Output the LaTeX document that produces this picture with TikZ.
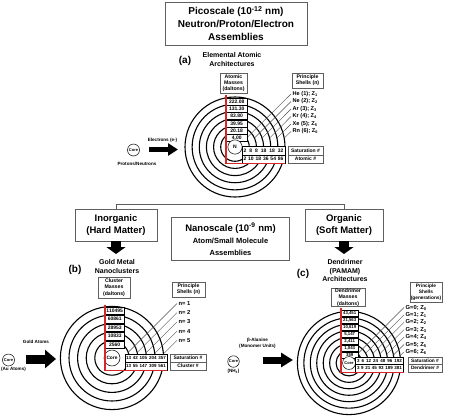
\documentclass[tikz,border=0pt]{standalone}
\usepackage{fontspec}
\setmainfont{Liberation Sans}
\usetikzlibrary{arrows.meta}
\definecolor{shellred}{RGB}{214,38,38}
\definecolor{boxgray}{RGB}{95,95,95}
\newcommand\sz[2]{\fontsize{#1}{#2}\selectfont\bfseries}
\newcommand\spreadrow[2]{\hbox to #1{#2}}
\tikzset{
  ring/.style={line width=1.1pt},
  corebox/.style={circle, draw, line width=0.5pt, fill=white, inner sep=0pt, font=\sz{4}{5}},
  titlebox/.style={draw=boxgray, line width=0.8pt, align=center, inner sep=0pt},
  infobox/.style={draw=boxgray, line width=0.4pt, fill=white, align=center, inner sep=0pt, font=\sz{5.2}{6.2}},
  massbox/.style={draw, line width=0.4pt, fill=white, inner sep=0pt, anchor=west, font=\sz{5}{5.5}},
  cell/.style={draw, line width=0.4pt, fill=white, inner sep=0pt, font=\sz{5}{5.5}},
  shelllab/.style={anchor=west, inner sep=1.5pt, font=\sz{5.6}{6}},
  leader/.style={line width=0.4pt, black!70},
  redL/.style={draw=shellred, line width=1.4pt},
  smalltxt/.style={inner sep=0pt, align=center, font=\sz{4.6}{6}},
  subtitle/.style={inner sep=0pt, align=center, font=\sz{7}{9}},
  panel/.style={inner sep=0pt, font=\sz{10}{12}},
}
\begin{document}
\begin{tikzpicture}[x=1pt,y=-1pt]
\useasboundingbox (0,0) rectangle (449,418);
\node[titlebox, minimum width=142, minimum height=43, font=\sz{10}{13}] (pico) at (236,23.5) {Picoscale (10\textsuperscript{-12} nm)\\Neutron/Proton/Electron\\Assemblies};

\node[panel] (a-tag) at (185,61) {(a)};
\node[subtitle] (a-title) at (232,59.5) {Elemental Atomic\\Architectures};
\coordinate (ca) at (235,147);
\foreach \r in {14.29,21.43,28.57,35.71,42.86,50}
  \draw[ring] (ca) circle[radius=\r];
\foreach \t/\ex [count=\k] in {{He (1); Z\textsubscript{1}}/246.5, {Ne (2); Z\textsubscript{2}}/254.5, {Ar (3); Z\textsubscript{3}}/262.1, {Kr (4); Z\textsubscript{4}}/269.6, {Xe (5); Z\textsubscript{5}}/276.9, {Rn (6); Z\textsubscript{6}}/284.3}{
  \node[shelllab] (a-l\k) at (291,{94+7.5*(\k-1)}) {\t};
  \coordinate (a-e\k) at (\ex,138);
  \draw[leader] (a-l\k.west) -- (a-e\k);
}
\foreach \m [count=\i] in {222.08,131.30,83.80,39.95,20.18,4.00}
  \node[massbox, minimum width=21, minimum height=7] (a-m\i) at (226,{101.5+7.3*(\i-1)}) {\m};
\node[corebox, minimum size=14.3, font=\sz{5}{6}] (a-core) at (ca) {N};
\node[cell, minimum width=43, minimum height=9] (a-sat) at (263.5,150.5) {\spreadrow{40pt}{2\hfill 8\hfill 8\hfill 18\hfill 18\hfill 32}};
\node[cell, minimum width=43, minimum height=8] (a-num) at (263.5,159) {\spreadrow{40pt}{2\hfill 10\hfill 18\hfill 36\hfill 54\hfill 86}};
\node[cell, draw=boxgray, minimum width=35, minimum height=9] (a-satlab) at (305.5,150.5) {Saturation \#};
\node[cell, draw=boxgray, minimum width=35, minimum height=8] (a-numlab) at (305.5,159) {Atomic \#};
\draw[redL] ([yshift=2.5pt]a-m1.north west) -- (a-m1.west |- a-num.south) -- (a-num.south east);
\node[infobox, minimum width=27, minimum height=20] (a-masslab) at (233.5,83) {Atomic\\Masses\\(daltons)};
\node[infobox, minimum width=31, minimum height=15] (a-shelllab) at (307.5,80.5) {Principle\\Shells (n)};
\node[corebox, minimum size=12] (a-pcore) at (133.5,150) {Core};
\node[smalltxt] (a-pn) at (137,163.5) {Protons/Neutrons};
\node[smalltxt] (a-el) at (162.5,140) {Electrons (e-)};
\coordinate (a-arr-s) at (149,149.5);
\coordinate (a-arr-e) at (178,149.5);
\draw[line width=5pt, -{Triangle[length=10pt,width=12pt]}] (a-arr-s) -- (a-arr-e);

\node[titlebox, minimum width=82, minimum height=32, font=\sz{9.5}{12}] (inorg) at (116,225) {Inorganic\\(Hard Matter)};
\node[titlebox, minimum width=78, minimum height=32, font=\sz{9.5}{12}] (org) at (344,225) {Organic\\(Soft Matter)};
\node[titlebox, minimum width=118, minimum height=43] (nano) at (230.5,239) {\sz{9.5}{12}Nanoscale (10\textsuperscript{-9} nm)\\\sz{7.5}{10}Atom/Small Molecule\\\sz{7.5}{10}Assemblies};
\coordinate (brk) at (230,204);
\draw[line width=0.8pt, boxgray] (inorg.north) -- (inorg.north |- brk) -| (org.north);
\coordinate (inorg-tip) at (116,254);
\coordinate (org-tip) at (344,254);
\draw[line width=10pt, -{Triangle[length=7pt,width=19pt]}] (inorg.south) -- (inorg-tip);
\draw[line width=10pt, -{Triangle[length=7pt,width=19pt]}] (org.south) -- (org-tip);

\node[panel] (b-tag) at (75,270) {(b)};
\node[subtitle] (b-title) at (117,266) {Gold Metal\\Nanoclusters};
\coordinate (cb) at (112,358);
\foreach \r in {17.2,25.8,34.4,43,51.6}
  \draw[ring] (cb) circle[radius=\r];
\foreach \k/\ex/\ey in {1/128.25/352.25, 2/137.2/352.5, 3/146/352.9, 4/154.75/353.35, 5/163.45/353.85}{
  \node[shelllab, font=\sz{5.8}{6}] (b-l\k) at (177,{303.5+9.2*(\k-1)}) {n= \k};
  \coordinate (b-e\k) at (\ex,\ey);
  \draw[leader] (b-l\k.west) -- (b-e\k);
}
\foreach \m [count=\i] in {110495,60861,28953,10833,2560}
  \node[massbox, minimum width=19, minimum height=7.5] (b-m\i) at (105,{310.5+8.5*(\i-1)}) {\m};
\node[corebox, minimum size=16, font=\sz{4.8}{5}] (b-core) at (cb) {Core};
\node[cell, minimum width=42, minimum height=8, font=\sz{4.5}{5}] (b-sat) at (146,358) {\spreadrow{40pt}{13\hfill 42\hfill 105\hfill 204\hfill 357}};
\node[cell, minimum width=42, minimum height=8, font=\sz{4.5}{5}] (b-num) at (146,366) {\spreadrow{40pt}{13\hfill 55\hfill 147\hfill 309\hfill 561}};
\node[cell, draw=boxgray, minimum width=36, minimum height=8] (b-satlab) at (188,358) {Saturation \#};
\node[cell, draw=boxgray, minimum width=36, minimum height=8] (b-numlab) at (188,366) {Cluster \#};
\draw[redL] ([yshift=2pt]b-m1.north west) -- (b-m1.west |- b-num.south) -- (b-num.south east);
\node[infobox, minimum width=32, minimum height=21] (b-masslab) at (114,287.5) {Cluster\\Masses\\(daltons)};
\node[infobox, minimum width=33, minimum height=15] (b-shelllab) at (188.5,289.5) {Principle\\Shells (n)};
\node[corebox, minimum size=12] (b-pcore) at (8.5,360) {Core};
\node[smalltxt] (b-au) at (13.5,369.5) {(Au Atoms)};
\node[smalltxt] (b-gold) at (36,342) {Gold Atoms};
\coordinate (b-arr-s) at (26,359);
\coordinate (b-arr-e) at (56,359);
\draw[line width=9pt, -{Triangle[length=11pt,width=18pt]}] (b-arr-s) -- (b-arr-e);

\node[panel] (c-tag) at (303,274) {(c)};
\node[subtitle, font=\sz{7}{8.7}] (c-title) at (345,270.5) {Dendrimer\\(PAMAM)\\Architectures};
\coordinate (cc) at (349,363);
\foreach \r in {12.9,19.35,25.8,32.25,38.7,45.15,51.6}
  \draw[ring] (cc) circle[radius=\r];
\foreach \k/\ex/\ey in {0/357.9/353.6, 1/365.7/353.2, 2/372.95/353.35, 3/379.9/353.8, 4/386.7/354.4, 5/393.45/355.05, 6/400.1/355.8}{
  \node[shelllab, font=\sz{5.8}{6}] (c-l\k) at (404,{307.5+7.4*\k}) {G=\k; Z\textsubscript{\k}};
  \coordinate (c-e\k) at (\ex,\ey);
  \draw[leader] (c-l\k.west) -- (c-e\k);
}
\foreach \m [count=\i] in {{43,451},{21,563},{10,619},{5,147},{2,411},{1,043},359}
  \node[massbox, minimum width=17, minimum height=6, font=\sz{4.3}{5}] (c-m\i) at (341,{313+7*(\i-1)}) {\m};
\node[corebox, minimum size=12.9] (c-core) at (cc) {Core};
\node[cell, minimum width=48, minimum height=7.5, font=\sz{4.5}{5}] (c-sat) at (379.5,360.75) {\spreadrow{45pt}{3\hfill 6\hfill 12\hfill 24\hfill 48\hfill 96\hfill 192}};
\node[cell, minimum width=48, minimum height=7.5, font=\sz{4.5}{5}] (c-num) at (379.5,368.25) {\spreadrow{45pt}{3\hfill 9\hfill 21\hfill 45\hfill 93\hfill 189\hfill 381}};
\node[cell, draw=boxgray, minimum width=34, minimum height=7.5, font=\sz{4.8}{5}] (c-satlab) at (425,360.75) {Saturation \#};
\node[cell, draw=boxgray, minimum width=34, minimum height=7.5, font=\sz{4.8}{5}] (c-numlab) at (425,368.25) {Dendrimer \#};
\draw[redL] ([yshift=2pt]c-m1.north west) -- (c-m1.west |- c-num.south) -- (c-num.south east);
\node[infobox, minimum width=34, minimum height=18] (c-masslab) at (348,297.5) {Dendrimer\\Masses\\(daltons)};
\node[infobox, minimum width=32, minimum height=20, font=\sz{4.8}{6}] (c-shelllab) at (426,292) {Principle\\Shells\\(generations)};
\node[corebox, minimum size=11.5] (c-pcore) at (233.5,361.5) {Core};
\node[smalltxt] (c-nh) at (233.5,371.5) {(NH\textsubscript{3})};
\node[smalltxt] (c-ala) at (257.5,343.5) {β-Alanine\\(Monomer Units)};
\coordinate (c-arr-s) at (263,360);
\coordinate (c-arr-e) at (293,360);
\draw[line width=7pt, -{Triangle[length=12pt,width=14pt]}] (c-arr-s) -- (c-arr-e);
\end{tikzpicture}
\end{document}
